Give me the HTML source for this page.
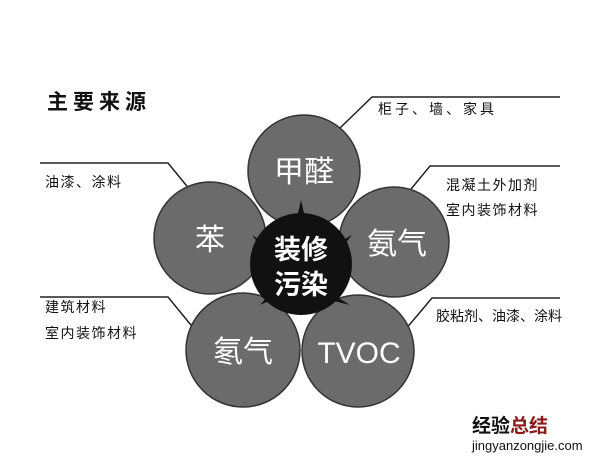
<!DOCTYPE html><html><head><meta charset="utf-8"><style>
body{margin:0;width:600px;height:462px;background:#fff;overflow:hidden;font-family:"Liberation Sans","Noto Sans CJK SC",sans-serif}
</style></head><body>
<svg width="600" height="462" xmlns="http://www.w3.org/2000/svg" style="position:absolute;left:0;top:0">
<g stroke="#222" stroke-width="1.5" fill="none">
<polyline points="340,128 372,97 560,97"/>
<polyline points="40,163 168,163 195,196"/>
<polyline points="402,200 430,166 560,166"/>
<polyline points="40,297 168,297 195,330"/>
<polyline points="405,330 432,298 560,298"/>
</g>
<g fill="#6b6b6b" stroke="#333" stroke-width="1.5">
<circle cx="304" cy="171" r="56"/>
<circle cx="210" cy="238" r="56"/>
<circle cx="394" cy="242" r="55"/>
<circle cx="243" cy="350" r="57"/>
<circle cx="358" cy="351" r="56"/>
</g>
<g fill="#111">
<polygon points="301,200 296,222 306,222"/>
<polygon points="252,235 272,248 268,256"/>
<polygon points="352,235 332,246 337,254"/>
<polygon points="260,305 275,288 282,295"/>
<polygon points="350,305 327,291 322,298"/>
<circle cx="301" cy="264" r="51"/>
</g>
<g fill="#fff" font-size="30" text-anchor="middle" font-family="Liberation Sans,Noto Sans CJK SC,sans-serif">
<text x="304" y="182">甲醛</text>
<text x="210" y="250">苯</text>
<text x="397" y="254">氨气</text>
<text x="243" y="362">氡气</text>
<text x="359" y="363">TVOC</text>
<text x="301" y="259" font-size="27" font-weight="bold">装修</text>
<text x="301" y="294" font-size="27" font-weight="bold">污染</text>
</g>
<g fill="#111" font-size="14" letter-spacing="1.5" font-family="Liberation Sans,Noto Sans CJK SC,sans-serif">
<text x="47" y="109" font-size="21" font-weight="bold" letter-spacing="5">主要来源</text>
<text x="378" y="114" letter-spacing="3">柜子、墙、家具</text>
<text x="45" y="187">油漆、涂料</text>
<text x="446" y="190">混凝土外加剂</text>
<text x="446" y="215">室内装饰材料</text>
<text x="45" y="312">建筑材料</text>
<text x="45" y="338">室内装饰材料</text>
<text x="436" y="321" letter-spacing="0">胶粘剂、油漆、涂料</text>
<text x="472" y="432" font-size="19" font-weight="bold" letter-spacing="0">经验<tspan fill="#8b1a1a">总结</tspan></text>
<text x="472" y="450" font-size="13" letter-spacing="0">jingyanzongjie.com</text>
</g>
</svg>
</body></html>
